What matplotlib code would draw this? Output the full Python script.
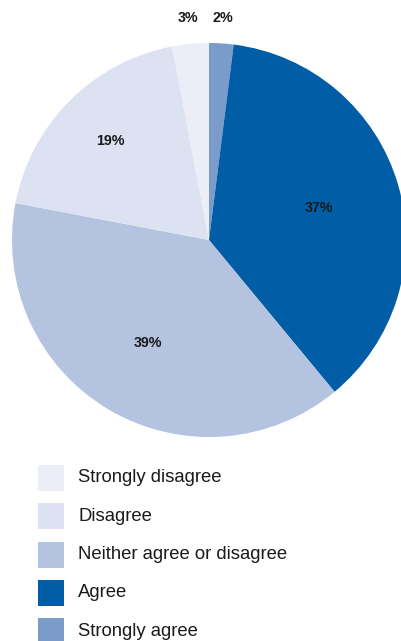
import numpy as np
import matplotlib
matplotlib.use("Agg")
import matplotlib.pyplot as plt
from matplotlib.patches import Rectangle

# Data (clockwise from 12 o'clock)
pie_labels = ["Strongly agree", "Agree", "Neither agree or disagree", "Disagree", "Strongly disagree"]
pie_values = [2, 37, 39, 19, 3]
pie_colors = ["#7B9BCB", "#005DA6", "#B4C3E0", "#DCE2F1", "#EBEEF7"]
label_dist = [1.13, 0.58, 0.61, 0.71, 1.13]

legend_order = ["Strongly disagree", "Disagree", "Neither agree or disagree", "Agree", "Strongly agree"]

plt.rcParams['font.family'] = ['Liberation Sans', 'DejaVu Sans']

W, H = 401, 641
fig = plt.figure(figsize=(W / 100, H / 100), dpi=100)
fig.patch.set_facecolor("white")

cx, cy, R = 209, 240, 197
ax = fig.add_axes([(cx - R) / W, (H - cy - R) / H, 2 * R / W, 2 * R / H])
wedges, _ = ax.pie(pie_values, colors=pie_colors, startangle=90, counterclock=False,
                   radius=1, wedgeprops=dict(linewidth=0))
ax.set_xlim(-1, 1)
ax.set_ylim(-1, 1)
ax.set_aspect("equal")
ax.axis("off")

for w, v, d in zip(wedges, pie_values, label_dist):
    th = np.deg2rad((w.theta1 + w.theta2) / 2)
    ax.text(d * np.cos(th), d * np.sin(th), f"{v}%", ha="center", va="center",
            fontsize=10.3, fontweight="bold", color="#1a1a1a", clip_on=False)

# Legend drawn in pixel coordinates
lax = fig.add_axes([0, 0, 1, 1])
lax.set_xlim(0, W)
lax.set_ylim(H, 0)
lax.axis("off")
color_map = dict(zip(pie_labels, pie_colors))
y0, dy, box = 478, 38.3, 26
for i, lab in enumerate(legend_order):
    yc = y0 + i * dy
    lax.add_patch(Rectangle((38, yc - box / 2), box, box, facecolor=color_map[lab], edgecolor="none"))
    lax.text(78, yc, lab, ha="left", va="center", fontsize=13.3, color="#1a1a1a")

fig.savefig("out.png", dpi=100, facecolor="white")
